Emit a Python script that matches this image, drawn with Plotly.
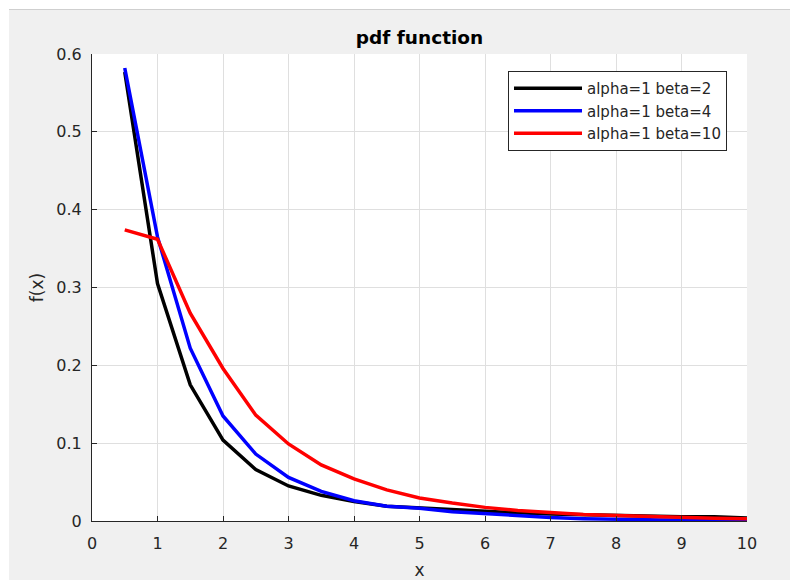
import plotly.graph_objects as go

# ---- data ----
x_vals = [0.5, 1.0, 1.5, 2.0, 2.5, 3.0, 3.5, 4.0, 4.5, 5.0,
          5.5, 6.0, 6.5, 7.0, 7.5, 8.0, 8.5, 9.0, 9.5, 10.0]
beta2 = [0.577, 0.305, 0.175, 0.104, 0.066, 0.045, 0.033, 0.025, 0.019, 0.0168,
         0.014, 0.012, 0.0105, 0.009, 0.008, 0.0065, 0.006, 0.0055, 0.0055, 0.004]
beta4 = [0.582, 0.365, 0.222, 0.135, 0.086, 0.056, 0.038, 0.026, 0.019, 0.0165,
         0.012, 0.0095, 0.0065, 0.0045, 0.003, 0.002, 0.0015, 0.001, 0.0008, 0.0005]
beta10 = [0.374, 0.362, 0.267, 0.196, 0.136, 0.099, 0.072, 0.054, 0.040, 0.0295,
          0.023, 0.0175, 0.0135, 0.0105, 0.0085, 0.007, 0.0055, 0.0045, 0.0035, 0.003]
series_names = ["alpha=1 beta=2", "alpha=1 beta=4", "alpha=1 beta=10"]
series_colors = ["#000000", "#0000ff", "#ff0000"]
x_ticks = [0, 1, 2, 3, 4, 5, 6, 7, 8, 9, 10]
y_ticks = [0, 0.1, 0.2, 0.3, 0.4, 0.5, 0.6]
y_tick_text = ["0", "0.1", "0.2", "0.3", "0.4", "0.5", "0.6"]

# page has an 8px body margin, so the figure is drawn 8px in from the corner
OFF = 8
W, H = 798 - OFF, 580 - OFF
L, R, T, B = 92 - OFF, 51, 54 - OFF, 59
PW, PH = W - L - R, H - T - B


def px(xp):  # page pixel -> paper x
    return (xp - OFF - L) / PW


def py(yp):  # page pixel -> paper y
    return (H - B - (yp - OFF)) / PH


FONT = "DejaVu Sans"
AX = "#262626"
GRID = "#dfdfdf"

fig = go.Figure()
for ys, name, col in zip([beta2, beta4, beta10], series_names, series_colors):
    fig.add_trace(go.Scatter(x=x_vals, y=ys, mode="lines", name=name,
                             line=dict(color=col, width=3.5)))

shapes = [
    dict(type="rect", xref="paper", yref="paper", x0=px(9), x1=px(802),
         y0=py(584), y1=py(10), fillcolor="#f0f0f0", line=dict(width=0),
         layer="below"),
    dict(type="line", xref="paper", yref="paper", x0=px(9), x1=px(802),
         y0=py(9.5), y1=py(9.5), line=dict(color="#cfcfcf", width=1.2),
         layer="below"),
    dict(type="rect", xref="paper", yref="paper", x0=0, x1=1, y0=0, y1=1,
         fillcolor="#ffffff", line=dict(width=0), layer="below"),
]

fig.update_layout(
    width=W, height=H,
    margin=dict(l=L, r=R, t=T, b=B, pad=0, autoexpand=False),
    paper_bgcolor="#ffffff",
    plot_bgcolor="#ffffff",
    shapes=shapes,
    font=dict(family=FONT, color=AX, size=16),
    title=dict(text="<b>pdf function</b>", x=px(419.5), xanchor="center",
               xref="paper",
               y=1 - (38 - OFF) / H, yanchor="middle", yref="container",
               font=dict(family=FONT, size=18.5, color="#000000")),
    xaxis=dict(range=[0, 10], tickvals=x_ticks, ticks="inside", ticklen=5,
               tickcolor=AX, showline=True, linecolor=AX, linewidth=1.2,
               showgrid=True, gridcolor=GRID, gridwidth=1, zeroline=False,
               mirror=False, ticklabelstandoff=8, automargin=False,
               tickfont=dict(family=FONT, size=16, color=AX),
               title=dict(text="x", standoff=12,
                          font=dict(family=FONT, size=17, color=AX))),
    yaxis=dict(range=[0, 0.6], tickvals=y_ticks, ticktext=y_tick_text,
               ticks="inside", ticklen=5, tickcolor=AX, showline=True,
               linecolor=AX, linewidth=1.2, showgrid=True, gridcolor=GRID,
               gridwidth=1, zeroline=False, mirror=False,
               ticklabelstandoff=6, automargin=False,
               tickfont=dict(family=FONT, size=16, color=AX),
               title=dict(text="f(x)", standoff=8,
                          font=dict(family=FONT, size=17, color=AX))),
    legend=dict(x=px(727), xanchor="right", y=py(71), yanchor="top",
                bgcolor="#ffffff", bordercolor=AX, borderwidth=1,
                font=dict(family=FONT, size=15, color=AX),
                itemwidth=68),
    showlegend=True,
)

fig.write_html("out.html")
